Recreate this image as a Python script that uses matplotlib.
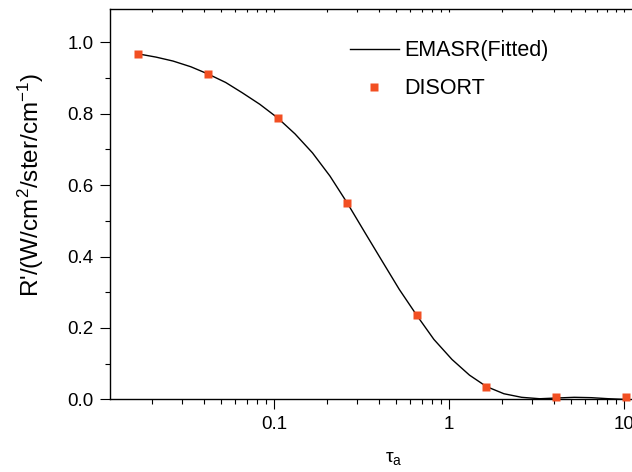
import numpy as np
import matplotlib
matplotlib.use('Agg')
import matplotlib.pyplot as plt
from matplotlib.ticker import LogLocator, NullFormatter, MultipleLocator

plt.rcParams['font.family'] = ['Liberation Sans', 'DejaVu Sans']
plt.rcParams['mathtext.fontset'] = 'custom'
plt.rcParams['mathtext.rm'] = 'Liberation Sans'
plt.rcParams['mathtext.it'] = 'Liberation Sans'
plt.rcParams['mathtext.default'] = 'regular'

### data

# DISORT points
tau_disort = [0.01678, 0.04194, 0.1049, 0.2621, 0.6554, 1.638, 4.096, 10.24]
r_disort = [0.967, 0.911, 0.788, 0.550, 0.235, 0.034, 0.007, 0.006]

# EMASR fitted curve
tau_fit = [0.01678, 0.0212, 0.0265, 0.0335, 0.0419, 0.053, 0.066, 0.083, 0.1049,
           0.132, 0.166, 0.209, 0.2621, 0.33, 0.414, 0.52, 0.6554, 0.82, 1.04,
           1.31, 1.638, 2.06, 2.6, 3.3, 4.096, 5.2, 6.5, 8.2, 10.24]
r_fit = [0.967, 0.958, 0.947, 0.931, 0.911, 0.887, 0.858, 0.826, 0.788,
         0.743, 0.690, 0.625, 0.550, 0.468, 0.388, 0.308, 0.235, 0.168, 0.112,
         0.068, 0.036, 0.016, 0.006, 0.002, 0.004, 0.006, 0.005, 0.002, 0.0]

xlabel = r'$\tau_a$'
ylabel = r"R'/(W/cm$^2$/ster/cm$^{-1}$)"

### plotting

fig = plt.figure(figsize=(6.32, 4.72), dpi=100)
# axes runs past the right edge like in the original
ax = fig.add_axes([0.174, 0.1537, 0.8967, 0.8275])

ax.plot(tau_fit, r_fit, color='black', lw=1.0, label='EMASR(Fitted)')
ax.plot(tau_disort, r_disort, 's', color='#f24f22', ms=6, mec='none',
        label='DISORT', clip_on=False, zorder=3)

ax.set_xscale('log')
ax.set_xlim(0.01156, 20)
ax.set_ylim(0, 1.093)

ax.xaxis.set_major_locator(LogLocator(base=10))
ax.xaxis.set_minor_locator(LogLocator(base=10, subs=np.arange(2, 10)))
ax.xaxis.set_minor_formatter(NullFormatter())
ax.set_xticks([0.1, 1, 10])
ax.set_xticklabels(['0.1', '1', '10'])
ax.yaxis.set_major_locator(MultipleLocator(0.2))
ax.yaxis.set_minor_locator(MultipleLocator(0.1))
ax.set_yticklabels([f'{v:.1f}' for v in ax.get_yticks()])

ax.tick_params(which='major', direction='out', length=7, width=0.8,
               labelsize=13.5, pad=5)
ax.tick_params(which='minor', direction='out', length=3.6, width=0.8)
# tiny inward ticks on the top spine
ax.tick_params(axis='x', which='major', top=True, length=7)
ax.tick_params(axis='x', which='minor', top=True)
for t in ax.xaxis.get_major_ticks() + ax.xaxis.get_minor_ticks():
    t.tick2line.set_markersize(2)
    t.tick2line.set_marker(3)

for s in ax.spines.values():
    s.set_linewidth(1.0)

ax.set_xlabel(xlabel, fontsize=14, labelpad=12)
ax.set_ylabel(ylabel, fontsize=17.5)
ax.yaxis.set_label_coords(-0.112, 0.55)

ax.legend(loc='upper left', bbox_to_anchor=(0.423, 0.92), frameon=False,
          fontsize=15.5, handlelength=2.3, handletextpad=0.25,
          labelspacing=0.8, borderpad=0, borderaxespad=0, numpoints=1)

fig.savefig('out.png', dpi=100)
